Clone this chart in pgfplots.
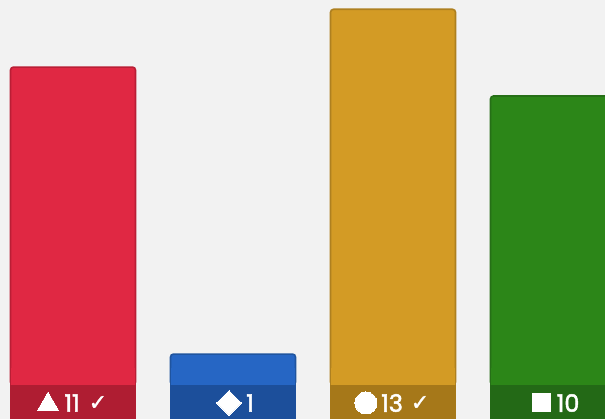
\documentclass[border=0pt]{standalone}
\usepackage{pgfplots}
\pgfplotsset{compat=1.18}
\usepackage{fontspec}
\setmainfont[FakeBold=2]{Poppins}
\newfontfamily\sym[FakeBold=1.5]{DejaVu Sans}
\definecolor{bgc}{HTML}{F2F2F2}
\definecolor{redm}{HTML}{E02843}
\definecolor{redb}{HTML}{BA1E35}
\definecolor{redd}{HTML}{AF1D32}
\definecolor{blum}{HTML}{2666C4}
\definecolor{blub}{HTML}{1F549F}
\definecolor{blud}{HTML}{1C4F9B}
\definecolor{yelm}{HTML}{D39B25}
\definecolor{yelb}{HTML}{AE8020}
\definecolor{yeld}{HTML}{A67819}
\definecolor{grem}{HTML}{2C8618}
\definecolor{greb}{HTML}{266F17}
\definecolor{gred}{HTML}{236916}
\begin{document}
\begin{tikzpicture}
\begin{axis}[
  scale only axis, width=605pt, height=419pt,
  xmin=-0.45625, xmax=3.325,
  ymin=-1.1765, ymax=13.3218,
  ticks=none, axis line style={draw=none},
  axis background/.style={fill=bgc},
  ybar, bar width=125pt, bar shift=0pt,
  clip=true,
]
\addplot[fill=redm, draw=redb, line width=1.6pt, rounded corners=3pt] coordinates {(0,11)};
\addplot[fill=blum, draw=blub, line width=1.6pt, rounded corners=3pt] coordinates {(1,1.07)};
\addplot[fill=yelm, draw=yelb, line width=1.6pt, rounded corners=3pt] coordinates {(2,13)};
\addplot[fill=grem, draw=greb, line width=1.6pt, rounded corners=3pt] coordinates {(3,10)};
% square-cornered foot over each rounded bar, so the bar meets its footer without a notch
\addplot[fill=redm, draw=redb, line width=1.6pt] coordinates {(0,0.5)};
\addplot[fill=blum, draw=blub, line width=1.6pt] coordinates {(1,0.5)};
\addplot[fill=yelm, draw=yelb, line width=1.6pt] coordinates {(2,0.5)};
\addplot[fill=grem, draw=greb, line width=1.6pt] coordinates {(3,0.5)};
\addplot[fill=redm, draw=none, bar width=123.4pt] coordinates {(0,0.6)};
\addplot[fill=blum, draw=none, bar width=123.4pt] coordinates {(1,0.6)};
\addplot[fill=yelm, draw=none, bar width=123.4pt] coordinates {(2,0.6)};
\addplot[fill=grem, draw=none, bar width=123.4pt] coordinates {(3,0.6)};
\addplot[fill=redd, draw=none, bar width=126.6pt] coordinates {(0,-2)};
\addplot[fill=blud, draw=none, bar width=126.6pt] coordinates {(1,-2)};
\addplot[fill=yeld, draw=none, bar width=126.6pt] coordinates {(2,-2)};
\addplot[fill=gred, draw=none, bar width=126.6pt] coordinates {(3,-2)};
\end{axis}
\begin{axis}[
  scale only axis, width=605pt, height=419pt,
  xmin=-0.45625, xmax=3.325,
  ymin=-1.1765, ymax=13.3218,
  hide axis,
]
\addplot[only marks, mark=triangle*, mark size=12.5pt, white, mark options={fill=white, draw=white, line width=0pt}] coordinates {(-0.156,-0.68)};
\addplot[only marks, mark=square*, mark size=8.8pt, white, mark options={rotate=45, fill=white, draw=white, line width=0pt}] coordinates {(0.975,-0.623)};
\addplot[only marks, mark=*, mark size=11pt, white, mark options={fill=white, draw=white, line width=0pt}] coordinates {(1.831,-0.623)};
\addplot[only marks, mark=square*, mark size=9pt, white, mark options={fill=white, draw=white, line width=0pt}] coordinates {(2.925,-0.623)};
\node[white, font=\fontsize{24}{26}\selectfont] at (axis cs:-0.006,-0.623) {11};
\node[white, font=\fontsize{24}{26}\selectfont] at (axis cs:1.106,-0.623) {1};
\node[white, font=\fontsize{24}{26}\selectfont] at (axis cs:1.994,-0.623) {13};
\node[white, font=\fontsize{24}{26}\selectfont] at (axis cs:3.094,-0.623) {10};
\node[white, font=\fontsize{22}{24}\selectfont\sym] at (axis cs:0.156,-0.623) {✓};
\node[white, font=\fontsize{22}{24}\selectfont\sym] at (axis cs:2.169,-0.623) {✓};
\end{axis}
\end{tikzpicture}
\end{document}
